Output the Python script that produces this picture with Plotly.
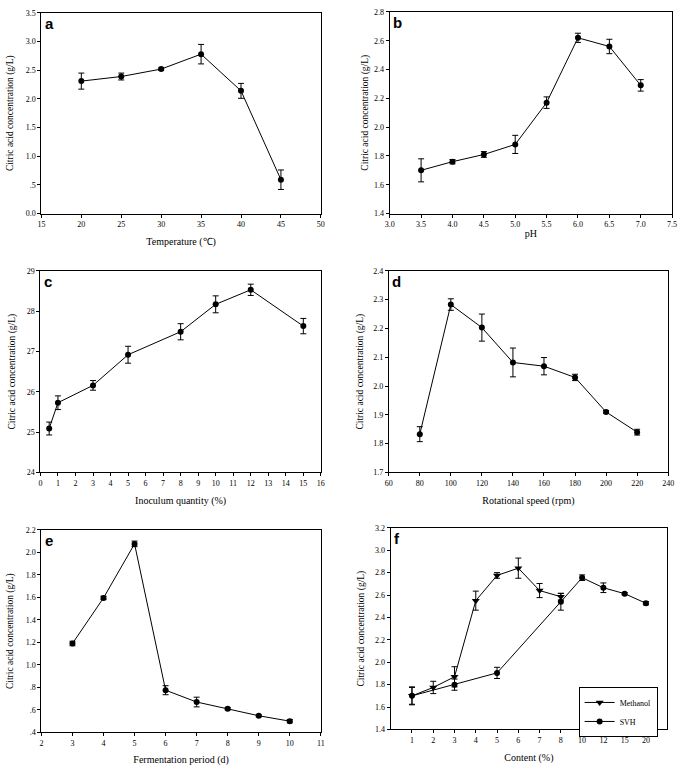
import plotly.graph_objects as go

# ---------------- data ----------------
# (a) temperature
temp_x = [20, 25, 30, 35, 40, 45]
temp_y = [2.31, 2.39, 2.52, 2.78, 2.14, 0.59]
temp_err = [0.14, 0.06, 0.02, 0.17, 0.13, 0.17]

# (b) pH
ph_x = [3.5, 4.0, 4.5, 5.0, 5.5, 6.0, 6.5, 7.0]
ph_y = [1.70, 1.76, 1.81, 1.88, 2.17, 2.62, 2.56, 2.29]
ph_err = [0.08, 0.015, 0.02, 0.063, 0.04, 0.032, 0.05, 0.04]

# (c) inoculum quantity
inoc_x = [0.5, 1, 3, 5, 8, 10, 12, 15]
inoc_y = [25.09, 25.73, 26.16, 26.92, 27.49, 28.17, 28.53, 27.63]
inoc_err = [0.16, 0.17, 0.12, 0.21, 0.20, 0.21, 0.14, 0.19]

# (d) rotational speed
rpm_x = [80, 100, 120, 140, 160, 180, 200, 220]
rpm_y = [1.833, 2.283, 2.203, 2.082, 2.069, 2.030, 1.910, 1.840]
rpm_err = [0.026, 0.020, 0.047, 0.050, 0.030, 0.011, 0.005, 0.010]

# (e) fermentation period
ferm_x = [3, 4, 5, 6, 7, 8, 9, 10]
ferm_y = [1.19, 1.595, 2.075, 0.775, 0.67, 0.61, 0.548, 0.50]
ferm_err = [0.02, 0.015, 0.025, 0.04, 0.043, 0.01, 0.01, 0.015]

# (f) content
content_labels = ["1", "2", "3", "4", "5", "6", "7", "8", "10", "12", "15", "20"]
meth_x = ["1", "2", "3", "4", "5", "6", "7", "8"]
meth_y = [1.70, 1.775, 1.87, 2.55, 2.775, 2.84, 2.64, 2.585]
meth_err = [0.075, 0.055, 0.09, 0.085, 0.025, 0.09, 0.063, 0.03]
svh_x = ["1", "3", "5", "8", "10", "12", "15", "20"]
svh_y = [1.70, 1.80, 1.905, 2.54, 2.755, 2.665, 2.612, 2.527]
svh_err = [0.08, 0.05, 0.05, 0.075, 0.025, 0.043, 0.01, 0.015]

# tick labels
a_yvals = [0, 0.5, 1.0, 1.5, 2.0, 2.5, 3.0, 3.5]
a_ytext = ["0.0", ".5", "1.0", "1.5", "2.0", "2.5", "3.0", "3.5"]
b_xvals = [3.0, 3.5, 4.0, 4.5, 5.0, 5.5, 6.0, 6.5, 7.0, 7.5]
b_xtext = ["3.0", "3.5", "4.0", "4.5", "5.0", "5.5", "6.0", "6.5", "7.0", "7.5"]
b_yvals = [1.4, 1.6, 1.8, 2.0, 2.2, 2.4, 2.6, 2.8]
b_ytext = ["1.4", "1.6", "1.8", "2.0", "2.2", "2.4", "2.6", "2.8"]
d_yvals = [1.7, 1.8, 1.9, 2.0, 2.1, 2.2, 2.3, 2.4]
d_ytext = ["1.7", "1.8", "1.9", "2.0", "2.1", "2.2", "2.3", "2.4"]
e_yvals = [0.4, 0.6, 0.8, 1.0, 1.2, 1.4, 1.6, 1.8, 2.0, 2.2]
e_ytext = [".4", ".6", ".8", "1.0", "1.2", "1.4", "1.6", "1.8", "2.0", "2.2"]
f_yvals = [1.4, 1.6, 1.8, 2.0, 2.2, 2.4, 2.6, 2.8, 3.0, 3.2]
f_ytext = ["1.4", "1.6", "1.8", "2.0", "2.2", "2.4", "2.6", "2.8", "3.0", "3.2"]

y_title = "Citric acid concentration (g/L)"

W, H = 685, 773
SERIF = "Liberation Serif, Times New Roman, serif"

fig = go.Figure()


def add_series(x, y, err, n, symbol="circle", name=None, show=False):
    fig.add_trace(go.Scatter(
        x=x, y=y, mode="lines+markers", name=name, showlegend=show,
        xaxis="x" + ("" if n == 1 else str(n)),
        yaxis="y" + ("" if n == 1 else str(n)),
        line=dict(color="black", width=1),
        marker=dict(color="black", size=6 if symbol == "circle" else 7, symbol=symbol),
        error_y=dict(type="data", array=err, color="black", thickness=1, width=3),
    ))


add_series(temp_x, temp_y, temp_err, 1)
add_series(ph_x, ph_y, ph_err, 2)
add_series(inoc_x, inoc_y, inoc_err, 3)
add_series(rpm_x, rpm_y, rpm_err, 4)
add_series(ferm_x, ferm_y, ferm_err, 5)
add_series(meth_x, meth_y, meth_err, 6, symbol="triangle-down", name="Methanol", show=True)
add_series(svh_x, svh_y, svh_err, 6, symbol="circle", name="SVH", show=True)

# panel pixel boxes (left, right, top, bottom)
boxes = [
    (37, 321, 9, 212),
    (391, 678, 8, 212),
    (36, 321, 270, 474),
    (390, 674, 270, 474),
    (37, 321, 532, 737),
    (392, 673, 530, 734),
]
x_standoff = [9, 1, 9, 9, 8, 9]
y_standoff = [10, 3, 9, 7, 10, 8]

xcfg = [
    dict(range=[15, 50], dtick=5, title="Temperature (\u2103)"),
    dict(range=[3.0, 7.5], tickvals=b_xvals, ticktext=b_xtext, title="pH"),
    dict(range=[0, 16], dtick=1, title="Inoculum quantity (%)"),
    dict(range=[60, 240], dtick=20, title="Rotational speed (rpm)"),
    dict(range=[2, 11], dtick=1, title="Fermentation period (d)"),
    dict(type="category", categoryorder="array", categoryarray=content_labels,
         range=[-1, 12], title="Content (%)"),
]
ycfg = [
    dict(range=[0, 3.5], tickvals=a_yvals, ticktext=a_ytext),
    dict(range=[1.4, 2.8], tickvals=b_yvals, ticktext=b_ytext),
    dict(range=[24, 29], dtick=1),
    dict(range=[1.7, 2.4], tickvals=d_yvals, ticktext=d_ytext),
    dict(range=[0.4, 2.2], tickvals=e_yvals, ticktext=e_ytext),
    dict(range=[1.4, 3.2], tickvals=f_yvals, ticktext=f_ytext),
]
letters = ["a", "b", "c", "d", "e", "f"]

common = dict(showline=True, linecolor="black", linewidth=1, mirror=True,
              ticks="outside", ticklen=3, tickwidth=1, tickcolor="black",
              showgrid=False, zeroline=False, ticklabeloverflow="allow",
              tickfont=dict(family=SERIF, size=8, color="black"))

for i, (l, r, t, b) in enumerate(boxes):
    n = i + 1
    sfx = "" if n == 1 else str(n)
    xc = dict(xcfg[i])
    yc = dict(ycfg[i])
    xt = xc.pop("title")
    fig.layout["xaxis" + sfx] = dict(
        common, **xc, domain=[l / W, r / W], anchor="y" + sfx,
        title=dict(text=xt, font=dict(family=SERIF, size=10, color="black"),
                   standoff=x_standoff[i]),
    )
    fig.layout["yaxis" + sfx] = dict(
        common, **yc, domain=[1 - b / H, 1 - t / H], anchor="x" + sfx,
        title=dict(text=y_title, font=dict(family=SERIF, size=9.5, color="black"),
                   standoff=y_standoff[i]),
    )
    fig.add_annotation(
        text="<b>" + letters[i] + "</b>", xref="x" + sfx + " domain", yref="y" + sfx + " domain",
        x=0.005, y=1.0, xanchor="left", yanchor="top", showarrow=False,
        font=dict(family="Liberation Sans, Arial, sans-serif", size=15, color="black"),
    )

fig.update_layout(
    width=W, height=H, margin=dict(l=0, r=0, t=0, b=0),
    paper_bgcolor="white", plot_bgcolor="white",
    showlegend=True,
    legend=dict(x=583 / W, y=1 - 691 / H, xanchor="left", yanchor="top",
                bordercolor="black", borderwidth=1, bgcolor="white",
                font=dict(family=SERIF, size=8, color="black"),
                itemwidth=30, tracegroupgap=0),
)

fig.write_html("out.html", config={"displayModeBar": False},
               post_script="document.body.style.margin='0';")
